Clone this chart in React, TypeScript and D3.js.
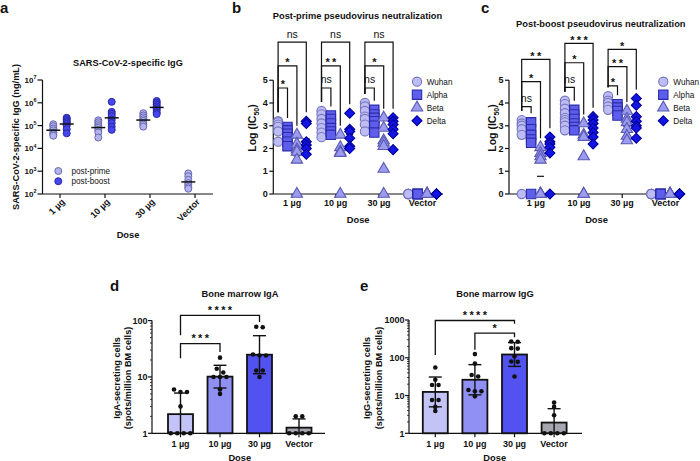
import React from 'react';
import * as d3 from 'd3';

const FONT = '"Liberation Sans", Arial, Helvetica, sans-serif';
const INK = '#111';

const doses = ['1 µg', '10 µg', '30 µg', 'Vector'];

// ---------- (a) SARS-CoV-2-specific IgG (ng/mL)
const igSeries = ['post-prime', 'post-boost'];
const igPrime = [
  [1.15e5, 9.5e4, 7.5e4, 6.2e4, 5e4, 4.2e4, 3.6e4],
  [1.7e5, 1.4e5, 1.15e5, 9.5e4, 8e4, 6.5e4, 5e4, 3e4],
  [3.5e5, 2.8e5, 2.3e5, 1.9e5, 1.6e5, 1.3e5, 1.1e5, 9e4],
  [8e2, 6e2, 4.2e2, 3e2, 2.5e2, 2e2, 1.7e2],
];
const igBoost = [
  [2.2e5, 1.9e5, 1.6e5, 1.4e5, 1.2e5, 1e5, 7e4, 4.6e4],
  [1.1e6, 4e5, 3.3e5, 2.6e5, 1.8e5, 1.3e5, 9e4, 6.5e4],
  [1.2e6, 1e6, 8.5e5, 7e5, 5.8e5, 4.8e5, 3.8e5, 3.2e5],
  [],
];
const igExponents = [2, 3, 4, 5, 6, 7];

// ---------- (b)(c) Log(IC50)
const variants = ['Wuhan', 'Alpha', 'Beta', 'Delta'];
const neutTicks = [0, 1, 2, 3, 4, 5];
const primeWuhan = [[3.2, 3.15, 3.05, 2.95, 2.75, 2.3], [3.65, 3.5, 3.3, 3.1, 2.9, 2.7, 2.5], [4.0, 3.85, 3.65, 3.4, 3.3, 3.05, 2.75], [0, 0, 0, 0, 0]];
const primeAlpha = [[2.95, 2.8, 2.65, 2.5, 2.3, 2.1], [3.45, 3.3, 3.1, 2.9, 2.75, 2.6], [3.7, 3.5, 3.35, 3.2, 3.0, 2.7], [0, 0, 0, 0, 0]];
const primeBeta = [[2.6, 2.2, 1.95, 1.85, 1.5, 0], [2.6, 2.05, 1.85, 1.8, 0], [3.35, 2.9, 2.35, 2.25, 2.1, 1.1, 0], [0, 0, 0, 0, 0]];
const primeDelta = [[3.2, 3.1, 2.3, 2.15, 2.0, 1.75], [3.55, 2.85, 2.75, 2.45, 2.1, 2.0], [3.35, 3.2, 3.05, 2.85, 2.65, 1.95], [0, 0, 0, 0, 0]];
const boostWuhan = [[3.25, 3.1, 3.0, 2.85, 2.6, 0], [4.1, 3.95, 3.75, 3.55, 3.35, 3.25, 3.15, 3.0, 2.8], [4.3, 4.1, 4.0, 3.85, 3.7], [0, 0, 0, 0, 0]];
const boostAlpha = [[3.15, 2.85, 2.6, 2.4, 2.25, 0], [3.7, 3.5, 3.3, 3.1, 2.95, 2.8], [3.95, 3.8, 3.65, 3.45], [0, 0, 0, 0, 0]];
const boostBeta = [[2.05, 1.8, 1.65, 1.5, 0, 0, 0, 0, 0], [3.1, 2.6, 2.5, 1.65, 0, 0], [3.65, 3.3, 3.15, 2.85, 2.55, 2.35], [0, 0, 0, 0, 0]];
const boostDelta = [[2.5, 2.3, 2.2, 2.05, 1.8, 0], [3.4, 3.25, 3.1, 2.9, 2.7, 2.5, 2.2], [4.2, 3.9, 3.4, 3.2, 3.0, 2.9, 2.45], [0, 0, 0, 0, 0]];

type Bracket = { g: number; to: number; label: string; level: number };
const primeBrackets: Bracket[] = [
  { g: 0, to: 1, label: '*', level: 4.66 },
  { g: 0, to: 2, label: '*', level: 5.63 },
  { g: 0, to: 3, label: 'ns', level: 6.68 },
  { g: 1, to: 1, label: 'ns', level: 4.66 },
  { g: 1, to: 2, label: '**', level: 5.63 },
  { g: 1, to: 3, label: 'ns', level: 6.68 },
  { g: 2, to: 1, label: 'ns', level: 4.66 },
  { g: 2, to: 2, label: '*', level: 5.63 },
  { g: 2, to: 3, label: 'ns', level: 6.68 },
];
const boostBrackets: Bracket[] = [
  { g: 0, to: 1, label: 'ns', level: 3.84 },
  { g: 0, to: 2, label: '*', level: 4.94 },
  { g: 0, to: 3, label: '**', level: 5.92 },
  { g: 1, to: 1, label: 'ns', level: 4.69 },
  { g: 1, to: 2, label: '*', level: 5.77 },
  { g: 1, to: 3, label: '***', level: 6.62 },
  { g: 2, to: 1, label: '*', level: 4.75 },
  { g: 2, to: 2, label: '**', level: 5.6 },
  { g: 2, to: 3, label: '*', level: 6.36 },
];

// ---------- (d)(e) bone marrow ELISpot
const bmIgA = [[6, 5.4, 5.4, 3, 1, 1, 1, 1], [22, 14, 12, 10, 10, 10, 6, 5], [78, 76, 25, 24, 24, 13, 13, 10], [2, 2, 1, 1, 1, 1]];
const bmIgG = [[55, 26, 19, 19, 7.6, 7.6, 5, 3.9], [125, 70, 35, 32, 14, 13, 13, 9.5], [270, 265, 180, 175, 110, 80, 78, 32], [6.5, 5, 3, 1, 1, 1, 1]];
const igaTicks = [1, 10, 100];
const iggTicks = [1, 10, 100, 1000];
type BarBracket = { from: number; to: number; label: string; level: number; leftEnd: number; rightEnd: number };
const igaBrackets: BarBracket[] = [
  { from: 0, to: 1, label: '***', level: 39, leftEnd: 21.5, rightEnd: 27.8 },
  { from: 0, to: 2, label: '****', level: 124, leftEnd: 55, rightEnd: 94 },
];
const iggBrackets: BarBracket[] = [
  { from: 0, to: 2, label: '****', level: 970, leftEnd: 119, rightEnd: 795 },
  { from: 1, to: 2, label: '*', level: 450, leftEnd: 162, rightEnd: 352 },
];

// ---------- styles
const igFill = ['#B3B3EE', '#4747EE'];
const igStroke = ['#6A6AB2', '#2828A6'];
const varFill = ['#BDBDF3', '#5E5EEC', '#9C9CEF', '#1414E4'];
const varStroke = ['#7474BE', '#2B2BA8', '#5A5AB6', '#00009A'];
const barFill = ['#C3C3F7', '#8F8FF4', '#5252F1', '#A6A6AE'];

const symPaths = [
  d3.symbol().type(d3.symbolCircle).size(66)()!,
  d3.symbol().type(d3.symbolSquare).size(88)()!,
  d3.symbol().type(d3.symbolTriangle).size(56)()!,
  d3.symbol().type(d3.symbolSquare).size(50)()!,
];
const symRot = [0, 0, 0, 45];

function Sym({ i, x, y }: { i: number; x: number; y: number }) {
  return (
    <path
      d={symPaths[i]}
      transform={`translate(${x},${y}) rotate(${symRot[i]})`}
      fill={varFill[i]}
      stroke={varStroke[i]}
      strokeWidth={1.1}
    />
  );
}

function StarText({ x, y, label, size = 11 }: { x: number; y: number; label: string; size?: number }) {
  if (label === 'ns') {
    return (
      <text x={x} y={y - 4.5} textAnchor="middle" fontSize={10.5} fill={INK}>
        ns
      </text>
    );
  }
  return (
    <text x={x + 1.2} y={y + 0.5} textAnchor="middle" fontSize={size} fontWeight="bold" letterSpacing={2.4} fill={INK}>
      {label}
    </text>
  );
}

// ---------------- Panel a
function PanelA() {
  const y = d3.scaleLog().domain([1e2, 1e7]).range([194, 80]);
  const x = d3.scalePoint<string>().domain(doses).range([37.5, 217.5]).padding(0.5);
  const axX = 42.5;
  const base = 194;
  const series = [igPrime, igBoost];
  const offs = [-6.7, 6.7];
  return (
    <g>
      <text x={0} y={12.5} fontSize={15} fontWeight="bold" fill={INK}>a</text>
      <text x={128} y={65.5} textAnchor="middle" fontSize={9.2} fontWeight="bold" fill={INK}>
        SARS-CoV-2-specific IgG
      </text>
      {series.map((s, si) =>
        s.map((vals, gi) =>
          vals.map((v, k) => (
            <circle
              key={`${si}-${gi}-${k}`}
              cx={x(doses[gi])! + offs[si]}
              cy={y(v)}
              r={3.5}
              fill={igFill[si]}
              stroke={igStroke[si]}
              strokeWidth={1}
            />
          ))
        )
      )}
      {series.map((s, si) =>
        s.map((vals, gi) => {
          if (!vals.length) return null;
          const gm = Math.pow(10, d3.mean(vals, (v) => Math.log10(v))!);
          const cx = x(doses[gi])! + offs[si];
          return <line key={`m${si}-${gi}`} x1={cx - 7} x2={cx + 7} y1={y(gm)} y2={y(gm)} stroke={INK} strokeWidth={1.5} />;
        })
      )}
      <line x1={axX} x2={axX} y1={80} y2={base} stroke={INK} strokeWidth={1.2} />
      <line x1={axX} x2={213} y1={base} y2={base} stroke={INK} strokeWidth={1.2} />
      {igExponents.map((e) => {
        const ty = y(Math.pow(10, e));
        return (
          <g key={e}>
            <line x1={axX - 5} x2={axX} y1={ty} y2={ty} stroke={INK} strokeWidth={1.2} />
            <text x={axX - 6} y={ty + 3} textAnchor="end" fontSize={8} fontWeight="bold" fill={INK}>
              10<tspan fontSize={5.4} dy={-3.6}>{e}</tspan>
            </text>
          </g>
        );
      })}
      {doses.map((d) => {
        const cx = x(d)!;
        return (
          <g key={d}>
            <line x1={cx} x2={cx} y1={base} y2={base + 4} stroke={INK} strokeWidth={1.2} />
            <text
              transform={`translate(${cx + 1},${base + 4}) rotate(-45)`}
              textAnchor="end"
              dy="0.7em"
              fontSize={9}
              fontWeight="bold"
              fill={INK}
            >
              {d}
            </text>
          </g>
        );
      })}
      <text transform="translate(18.5,137) rotate(-90)" textAnchor="middle" fontSize={9.2} fontWeight="bold" fill={INK}>
        SARS-CoV-2-specific IgG (ng/mL)
      </text>
      <text x={128} y={237.5} textAnchor="middle" fontSize={9.3} fontWeight="bold" fill={INK}>Dose</text>
      {igSeries.map((s, i) => (
        <g key={s}>
          <circle cx={58.3} cy={171 + i * 10.2} r={3.5} fill={igFill[i]} stroke={igStroke[i]} strokeWidth={1} />
          <text x={71.5} y={171 + i * 10.2 + 3} fontSize={8.2} fill={INK}>{s}</text>
        </g>
      ))}
    </g>
  );
}

// ---------------- Panels b/c
type NeutProps = {
  letter: string;
  letterX: number;
  title: string;
  titleX: number;
  titleY: number;
  axX: number;
  axR: number;
  range: [number, number];
  data: number[][][];
  brackets: Bracket[];
  legendX: number;
  legendTextX: number;
  yLabelX: number;
};

function PanelNeut(p: NeutProps) {
  const base = 194;
  const y = d3.scaleLinear().domain([0, 5]).range([base, 80.25]);
  const x = d3.scalePoint<string>().domain(doses).range(p.range).padding(0.5);
  const off = (j: number) => (j - 1.5) * 9.4;
  return (
    <g>
      <text x={p.letterX} y={13.3} fontSize={15} fontWeight="bold" fill={INK}>{p.letter}</text>
      <text x={p.titleX} y={p.titleY} textAnchor="middle" fontSize={9.3} fontWeight="bold" fill={INK}>{p.title}</text>
      {p.data.map((s, j) =>
        s.map((vals, gi) => {
          const m = d3.mean(vals)!;
          const cx = x(doses[gi])! + off(j);
          return <line key={`m${j}-${gi}`} x1={cx - 3.5} x2={cx + 3.5} y1={y(m)} y2={y(m)} stroke={INK} strokeWidth={1.2} />;
        })
      )}
      <line x1={p.axX} x2={p.axX} y1={y(5)} y2={base} stroke={INK} strokeWidth={1.2} />
      <line x1={p.axX} x2={p.axR} y1={base} y2={base} stroke={INK} strokeWidth={1.2} />
      {neutTicks.map((t) => (
        <g key={t}>
          <line x1={p.axX - 4} x2={p.axX} y1={y(t)} y2={y(t)} stroke={INK} strokeWidth={1.2} />
          <text x={p.axX - 5.5} y={y(t) + 3.2} textAnchor="end" fontSize={9} fontWeight="bold" fill={INK}>{t}</text>
        </g>
      ))}
      {doses.map((d) => (
        <g key={d}>
          <line x1={x(d)!} x2={x(d)!} y1={base} y2={base + 4} stroke={INK} strokeWidth={1.2} />
          <text x={x(d)!} y={206} textAnchor="middle" fontSize={9} fontWeight="bold" fill={INK}>{d}</text>
        </g>
      ))}
      {p.data.map((s, j) =>
        s.map((vals, gi) =>
          vals.map((v, k) => <Sym key={`${j}-${gi}-${k}`} i={j} x={x(doses[gi])! + off(j)} y={y(v)} />)
        )
      )}
      {p.brackets.map((b, i) => {
        const gx = x(doses[b.g])!;
        const x1 = gx + off(0);
        const x2 = gx + off(b.to);
        const ly = y(b.level);
        const l1 = y(d3.max(p.data[0][b.g])!) - 9;
        const l2 = y(d3.max(p.data[b.to][b.g])!) - 9;
        return (
          <g key={i}>
            <path d={`M${x1},${l1}V${ly}H${x2}V${l2}`} fill="none" stroke={INK} strokeWidth={1.2} />
            <StarText x={(x1 + x2) / 2} y={ly} label={b.label} />
          </g>
        );
      })}
      <text transform={`translate(${p.yLabelX},128) rotate(-90)`} textAnchor="middle" fontSize={10.5} fontWeight="bold" fill={INK}>
        Log (IC<tspan fontSize={7} dy={2.5}>50</tspan><tspan dy={-2.5}>)</tspan>
      </text>
      <text x={(p.axX + p.axR) / 2} y={223} textAnchor="middle" fontSize={9.3} fontWeight="bold" fill={INK}>Dose</text>
      {variants.map((v, j) => (
        <g key={v}>
          <Sym i={j} x={p.legendX} y={81.7 + j * 13} />
          <text x={p.legendTextX} y={81.7 + j * 13 + 3} fontSize={8.2} fill={INK}>{v}</text>
        </g>
      ))}
    </g>
  );
}

// ---------------- Panels d/e
function rowLayout(vals: number[], y: (v: number) => number, step: number) {
  const sorted = [...vals].sort((a, b) => b - a);
  const rows: number[][] = [];
  for (const v of sorted) {
    const last = rows[rows.length - 1];
    if (last && Math.abs(y(last[0]) - y(v)) < 4) last.push(v);
    else rows.push([v]);
  }
  return rows.flatMap((r) => r.map((v, i) => ({ v, dx: (i - (r.length - 1) / 2) * step })));
}

type BarProps = {
  letter: string;
  letterX: number;
  title: string;
  titleX: number;
  axX: number;
  axR: number;
  range: [number, number];
  top: number;
  ticks: number[];
  data: number[][];
  brackets: BarBracket[];
  yLabel1: string;
  yLabelX: number;
  labelEnd: number;
};

function PanelBar(p: BarProps) {
  const base = 433.3;
  const y = d3.scaleLog().domain([1, p.ticks[p.ticks.length - 1]]).range([base, p.top]);
  const x = d3.scalePoint<string>().domain(doses).range(p.range).padding(0.5);
  const bw = 25;
  const minor: number[] = [];
  p.ticks.slice(0, -1).forEach((t) => {
    for (let m = 2; m <= 9; m++) minor.push(t * m);
  });
  return (
    <g>
      <text x={p.letterX} y={290.7} fontSize={15} fontWeight="bold" fill={INK}>{p.letter}</text>
      <text x={p.titleX} y={296.6} textAnchor="middle" fontSize={9.3} fontWeight="bold" fill={INK}>{p.title}</text>
      {p.data.map((vals, gi) => {
        const logs = vals.map((v) => Math.log10(v));
        const m = d3.mean(logs)!;
        const sd = d3.deviation(logs)!;
        const cx = x(doses[gi])!;
        const hi = Math.pow(10, m + sd);
        const lo = Math.pow(10, m - sd);
        const yLo = lo >= 1 ? y(lo) : base;
        return (
          <g key={gi}>
            <rect x={cx - bw / 2} y={y(Math.pow(10, m))} width={bw} height={base - y(Math.pow(10, m))} fill={barFill[gi]} stroke={INK} strokeWidth={1.8} />
            <line x1={cx} x2={cx} y1={yLo} y2={y(hi)} stroke={INK} strokeWidth={1.4} />
            <line x1={cx - 6.5} x2={cx + 6.5} y1={y(hi)} y2={y(hi)} stroke={INK} strokeWidth={1.4} />
            {lo >= 1 && <line x1={cx - 6.5} x2={cx + 6.5} y1={yLo} y2={yLo} stroke={INK} strokeWidth={1.4} />}
            {rowLayout(vals, y, 6.5).map((d, k) => (
              <circle key={k} cx={cx + d.dx} cy={y(d.v)} r={2.3} fill={INK} />
            ))}
          </g>
        );
      })}
      <line x1={p.axX} x2={p.axX} y1={p.top} y2={base} stroke={INK} strokeWidth={1.2} />
      <line x1={p.axX} x2={p.axR} y1={base} y2={base} stroke={INK} strokeWidth={1.2} />
      {minor.map((t) => (
        <line key={t} x1={p.axX - 2} x2={p.axX} y1={y(t)} y2={y(t)} stroke={INK} strokeWidth={0.8} />
      ))}
      {p.ticks.map((t) => (
        <g key={t}>
          <line x1={p.axX - 4} x2={p.axX} y1={y(t)} y2={y(t)} stroke={INK} strokeWidth={1.2} />
          <text x={p.axX - p.labelEnd} y={y(t) + 3.2} textAnchor="end" fontSize={9} fontWeight="bold" fill={INK}>{t}</text>
        </g>
      ))}
      {doses.map((d) => (
        <g key={d}>
          <line x1={x(d)!} x2={x(d)!} y1={base} y2={base + 4} stroke={INK} strokeWidth={1.2} />
          <text x={x(d)!} y={447} textAnchor="middle" fontSize={9} fontWeight="bold" fill={INK}>{d}</text>
        </g>
      ))}
      {p.brackets.map((b, i) => {
        const x1 = x(doses[b.from])!;
        const x2 = x(doses[b.to])!;
        const ly = y(b.level);
        return (
          <g key={i}>
            <path d={`M${x1},${y(b.leftEnd)}V${ly}H${x2}V${y(b.rightEnd)}`} fill="none" stroke={INK} strokeWidth={1.3} />
            <text x={(x1 + x2) / 2 + 1.2} y={ly - 1.2} textAnchor="middle" fontSize={11} fontWeight="bold" letterSpacing={2.4} fill={INK}>
              {b.label}
            </text>
          </g>
        );
      })}
      <text transform={`translate(${p.yLabelX},378) rotate(-90)`} textAnchor="middle" fontSize={9.2} fontWeight="bold" fill={INK}>
        {p.yLabel1}
      </text>
      <text transform={`translate(${p.yLabelX + 11.5},378) rotate(-90)`} textAnchor="middle" fontSize={9.2} fontWeight="bold" fill={INK}>
        (spots/million BM cells)
      </text>
      <text x={(p.range[0] + p.range[1]) / 2} y={460.5} textAnchor="middle" fontSize={9.3} fontWeight="bold" fill={INK}>Dose</text>
    </g>
  );
}

export default function App() {
  return (
    <div style={{ position: 'absolute', left: 0, top: 0 }}>
      <svg width={700} height={461} style={{ display: 'block', background: '#fff' }} fontFamily={FONT}>
        <rect width={700} height={461} fill="#fff" />
        <PanelA />
        <PanelNeut
          letter="b"
          letterX={232}
          title="Post-prime pseudovirus neutralization"
          titleX={357.5}
          titleY={19}
          axX={273.3}
          axR={443}
          range={[270.5, 444.1]}
          data={[primeWuhan, primeAlpha, primeBeta, primeDelta]}
          brackets={primeBrackets}
          legendX={417}
          legendTextX={426.7}
          yLabelX={256}
        />
        <PanelNeut
          letter="c"
          letterX={481}
          title="Post-boost pseudovirus neutralization"
          titleX={600.8}
          titleY={26.7}
          axX={509}
          axR={684}
          range={[514.2, 687]}
          data={[boostWuhan, boostAlpha, boostBeta, boostDelta]}
          brackets={boostBrackets}
          legendX={663.3}
          legendTextX={673.3}
          yLabelX={496}
        />
        <PanelBar
          letter="d"
          letterX={110}
          title="Bone marrow IgA"
          titleX={240}
          axX={152}
          axR={325}
          range={[160.75, 318.75]}
          top={320.6}
          ticks={igaTicks}
          data={bmIgA}
          brackets={igaBrackets}
          yLabel1="IgA-secreting cells"
          yLabelX={119.5}
          labelEnd={4.5}
        />
        <PanelBar
          letter="e"
          letterX={360}
          title="Bone marrow IgG"
          titleX={495}
          axX={409}
          axR={582}
          range={[415.5, 573.9]}
          top={320}
          ticks={iggTicks}
          data={bmIgG}
          brackets={iggBrackets}
          yLabel1="IgG-secreting cells"
          yLabelX={370}
          labelEnd={4.5}
        />
      </svg>
    </div>
  );
}
